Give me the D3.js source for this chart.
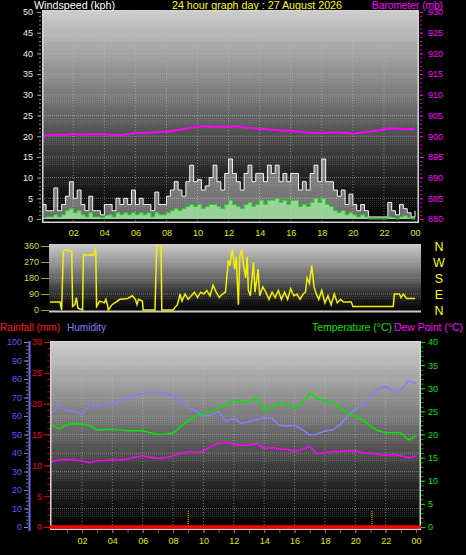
<!DOCTYPE html>
<html><head><meta charset="utf-8">
<script src="https://cdn.jsdelivr.net/npm/d3@7/dist/d3.min.js"></script>
<style>
body{margin:0;background:#000;}
svg{display:block;}
text{font-family:"Liberation Sans",Arial,sans-serif;}
</style>
</head><body>
<svg id="c" width="466" height="555"></svg>
<script>
// ---------------- DATA ----------------
const titleText = "24 hour graph day : 27 August 2026";
const hourTicks = [2,4,6,8,10,12,14,16,18,20,22,24];
// wind: every 15 minutes from 00:00 to 24:00
const windGust = [3.5,2,2,7.5, 2,3.5,5.5,9, 5,7,3.5,2, 5.5,2,2,1, 3.5,3.5,2,5, 3.5,5,3.5,7, 3.5,5,3.5,3.5, 2,6.5,3.5,3.5,
  5.5,7,9,7, 5.5,9,13,9, 9.5,7,8,10, 13,9,7,11, 14.5,11,9,7, 11,13,9,11, 11,9,13,11, 13,9,11,9, 11,11,7,9, 7,11,13,9,
  14.5,9,9,7, 5.5,7,3.5,6, 3.5,2,3.5,2, 0.5,0.5,0.5,0.5, 0.5,4,2,1, 3.5,2.5,1.5,0.5, 2];
const windAvg = [0.3,0.5,0.5,1, 0.5,1,2,2.5, 1.5,2,1,0.5, 1.5,0.5,0.5,0.3, 0.8,1,0.5,1.5, 1,1.5,1,1.5, 1,1.5,1,1.5, 0.5,1.5,1,1,
  1.5,2,2.5,2, 2.5,3,3.5,3, 3.5,2.5,3,3.5, 3.5,3,2.5,3.5, 4.5,3.5,3,2.5, 3.5,4,3,3.5, 4.5,3.5,4.5,4.5, 5,4,4.5,3.5, 4.5,4.5,3,3.5, 3,4,5,4,
  5,3.5,3,2, 1.5,2,1,1.5, 1,0.5,1,0.5, 0,0,0,0, 0,0.5,0.3,0, 0.5,0.8,0.3,0, 0.3];
// half-hourly from 00:00 to 24:00
const barometer = [900.2,900.3,900.4,900.3,900.5,900.4,900.4,900.5,900.5,900.3,900.3,900.5,900.7,900.8,900.9,901.0,
  901.1,901.4,901.7,902.0,902.2,902.4,902.3,902.3,902.2,902.4,902.1,902.0,901.8,901.7,901.5,901.3,901.4,901.1,
  900.9,900.8,900.7,900.9,900.9,900.8,900.6,900.9,901.1,901.3,901.7,901.9,901.8,901.7,901.8];
const humidity = [61.5,66.5,63,62.5,61,66,65,66.4,66.5,68,69.6,71,72,72.9,72.7,72.3,70.9,67.8,64.7,62.7,59.7,60.6,
  62.4,57,58.8,56,57,58,59.3,58.8,55,54.6,55,52.8,49.7,50.3,51.9,52.4,55.2,60,63.7,65.5,71,74.5,76,73,74,79,77.5];
const temperature = [22.1,21.2,22.1,22.4,22.2,22.0,21.0,21.1,21.1,21.0,20.8,20.8,20.8,20.4,20.0,20.1,20.3,21.7,23.0,
  24.0,24.5,25.0,25.7,26.5,27.5,27.1,27.1,27.8,25.3,25.9,26.8,26.5,25.7,26.8,28.9,27.8,27.3,26.9,25.7,24.6,23.9,
  23.1,21.8,20.8,20.4,20.4,20.4,18.8,19.7];
const dewPoint = [14.1,14.5,14.6,14.5,14.3,13.9,14.3,14.4,14.5,14.5,14.7,15.1,15.4,15.1,14.8,15.0,15.4,15.9,16.3,
  16.1,16.4,17.4,18.1,18.3,17.9,17.7,17.7,18.1,17.0,17.2,16.8,16.8,16.3,16.8,17.4,15.9,16.1,16.3,16.3,16.5,16.5,
  16.1,15.9,15.7,15.5,15.7,15.4,15.0,15.3];
const rainfall = [0,0,0,0,0,0,0,0,0,0,0,0,0,0,0,0,0,0,0,0,0,0,0,0,0,0,0,0,0,0,0,0,0,0,0,0,0,0,0,0,0,0,0,0,0,0,0,0,0];
// wind direction (irregular samples)
const dirHours = [0.5,1.15,1.25,1.36,1.45,1.9,1.96,2.1,2.2,2.3,2.6,2.65,3.3,3.4,3.45,3.5,3.7,4.0,4.1,4.2,4.26,4.5,5.0,5.5,5.8,6.0,6.1,6.2,6.45,6.5,
  7.26,7.37,7.65,7.7,8.44,8.55,8.7,8.8,8.87,9.0,9.2,9.4,9.6,9.8,10.0,10.2,10.4,10.6,10.8,11.0,11.2,11.4,11.6,11.8,11.98,12.08,12.24,12.4,12.5,12.55,
  12.63,12.72,12.85,12.95,13.1,13.2,13.27,13.4,13.6,13.7,13.9,14.0,14.2,14.4,14.6,14.8,15.0,15.2,15.4,15.6,15.8,16.0,16.2,16.4,16.6,16.8,16.95,17.05,
  17.2,17.35,17.5,17.65,17.8,18.0,18.2,18.4,18.6,18.8,19.0,19.2,19.4,19.9,20.0,22.6,22.67,23.0,23.1,23.25,23.46,24.0];
const dirValues = [45,45,0,330,340,330,20,30,70,10,0,310,310,340,330,20,50,40,60,30,0,30,60,65,80,60,30,60,50,0,
  0,360,360,0,0,15,30,60,90,50,90,60,80,100,70,100,90,110,80,140,100,70,90,100,280,250,345,230,300,180,
  30,300,340,260,180,300,110,80,270,100,230,80,130,100,60,100,70,110,60,100,60,120,80,90,60,90,100,180,
  150,250,130,90,60,110,40,80,30,90,40,60,45,45,20,20,90,90,70,90,65,65];
const compass = ["N","W","S","E","N"];
const compassDeg = [360,270,180,90,0];
const markerHours = [9.0, 21.1];

// ---------------- HELPERS ----------------
const svg = d3.select("#c");
const defs = svg.append("defs");
function bgGrad(id){
  const g = defs.append("linearGradient").attr("id",id).attr("x1",0).attr("y1",0).attr("x2",0).attr("y2",1);
  [["0%","#cdcdcd"],["40%","#7a7a7a"],["80%","#1e1e1e"],["100%","#000"]].forEach(s=>g.append("stop").attr("offset",s[0]).attr("stop-color",s[1]));
}
bgGrad("bg");
const pat = defs.append("pattern").attr("id","stip").attr("width",2).attr("height",2).attr("patternUnits","userSpaceOnUse");
pat.append("rect").attr("width",1).attr("height",1).attr("fill","#fff").attr("opacity",0.13);

const pad2 = h => String(h%24).padStart(2,"0");
const t15 = windGust.map((_,i)=>i/4);
const t30 = barometer.map((_,i)=>i/2);

function panel(x0,y0,x1,y1,clipId){
  svg.append("rect").attr("x",x0).attr("y",y0).attr("width",x1-x0).attr("height",y1-y0).attr("fill","url(#bg)");
  defs.append("clipPath").attr("id",clipId).append("rect").attr("x",x0).attr("y",y0).attr("width",x1-x0).attr("height",y1-y0);
}
function frame(x0,y0,x1,y1){
  svg.append("rect").attr("x",x0+0.75).attr("y",y0+0.75).attr("width",x1-x0-1.5).attr("height",y1-y0-1.5)
    .attr("fill","none").attr("stroke","#d4d4d4").attr("stroke-width",1.5);
}
function styleAxis(g,color,size){
  g.select(".domain").remove();
  g.selectAll(".tick line").attr("stroke",color);
  g.selectAll(".tick text").attr("fill",color).attr("font-size",size);
}
function label(x,y,txt,color,len,anchor){
  return svg.append("text").attr("x",x).attr("y",y).attr("fill",color).attr("font-size",11)
    .attr("text-anchor",anchor||"start").attr("textLength",len).attr("lengthAdjust","spacingAndGlyphs").text(txt);
}

// ---------------- TOP PANEL (wind + barometer) ----------------
const xT = d3.scaleLinear().domain([0,24]).range([42.2,415]);
const yW = d3.scaleLinear().domain([0,50]).range([219,12]);
const yB = d3.scaleLinear().domain([880,930]).range([219,12]);
panel(42,10,419,223,"clipT");
const gT = svg.append("g").attr("clip-path","url(#clipT)");
yW.ticks(10).forEach(v=>{ if(v>0) gT.append("rect").attr("x",42).attr("y",yW(v)+1).attr("width",377).attr("height",8).attr("fill","url(#stip)"); });
yW.ticks(10).filter(v=>v>0&&v<50).forEach(v=>gT.append("line").attr("x1",42).attr("x2",419).attr("y1",yW(v)).attr("y2",yW(v))
  .attr("stroke","#b8b8b8").attr("stroke-opacity",0.55).attr("stroke-dasharray","1,1"));
hourTicks.filter(h=>h<24).forEach(h=>gT.append("line").attr("x1",xT(h)).attr("x2",xT(h)).attr("y1",10).attr("y2",223)
  .attr("stroke","#c0c0c0").attr("stroke-opacity",0.55).attr("stroke-dasharray","1,2"));
gT.append("path").datum(windGust).attr("fill","#ffffff").attr("fill-opacity",0.42)
  .attr("d",d3.area().curve(d3.curveStepAfter).x((d,i)=>xT(t15[i])).y0(yW(0)).y1(d=>yW(d)));
gT.append("path").datum(windGust).attr("fill","none").attr("stroke","#f4f4f4").attr("stroke-width",1)
  .attr("d",d3.line().curve(d3.curveStepAfter).x((d,i)=>xT(t15[i])).y(d=>yW(d)));
gT.append("path").datum(windAvg).attr("fill","#a8f0a8").attr("fill-opacity",0.75)
  .attr("d",d3.area().curve(d3.curveStepAfter).x((d,i)=>xT(t15[i])).y0(yW(0)).y1(d=>yW(d)));
gT.append("path").datum(windAvg).attr("fill","none").attr("stroke","#20e020").attr("stroke-width",1)
  .attr("d",d3.line().curve(d3.curveStepAfter).x((d,i)=>xT(t15[i])).y(d=>yW(d)));
gT.append("path").datum(barometer).attr("fill","none").attr("stroke","#ff00ff").attr("stroke-width",2)
  .attr("d",d3.line().x((d,i)=>xT(t30[i])).y(d=>yB(d)));
frame(42,10,419,223);
svg.append("g").attr("transform","translate(41,0)").call(d3.axisLeft(yW).tickValues(d3.range(0,51,1)).tickSize(2).tickFormat(""))
  .call(g=>styleAxis(g,"#8a8a8a",9));
svg.append("g").attr("transform","translate(41,0)").call(d3.axisLeft(yW).tickValues(d3.range(0,51,5)).tickSize(4).tickPadding(4))
  .call(g=>styleAxis(g,"#9a9a9a",9)).call(g=>g.selectAll("text").attr("fill","#f2f2d8"));
svg.append("g").attr("transform","translate(420,0)").call(d3.axisRight(yB).tickValues(d3.range(880,931,1)).tickSize(2).tickFormat(""))
  .call(g=>styleAxis(g,"#d000d0",9));
svg.append("g").attr("transform","translate(420,0)").call(d3.axisRight(yB).tickValues(d3.range(880,931,5)).tickSize(3).tickPadding(5))
  .call(g=>styleAxis(g,"#ff00ff",9));
svg.append("g").attr("transform","translate(0,223)").call(d3.axisBottom(xT).tickValues(hourTicks).tickSize(0).tickPadding(7).tickFormat(pad2))
  .call(g=>styleAxis(g,"#e8e800",9));
label(34,9,"Windspeed (kph)","#ffffff",81);
label(257,9,titleText,"#ffff00",170,"middle");
label(443,9,"Barometer (mb)","#ff00ff",71,"end");

// ---------------- MIDDLE PANEL (wind direction) ----------------
const xM = d3.scaleLinear().domain([0,24]).range([42.2,415]);
const yD = d3.scaleLinear().domain([0,360]).range([310,246]);
panel(49,244,421,313,"clipM");
const gM = svg.append("g").attr("clip-path","url(#clipM)");
[90,180,270].forEach(v=>{
  gM.append("rect").attr("x",49).attr("y",yD(v)+1).attr("width",372).attr("height",5).attr("fill","url(#stip)");
  gM.append("line").attr("x1",49).attr("x2",421).attr("y1",yD(v)).attr("y2",yD(v)).attr("stroke","#b8b8b8").attr("stroke-opacity",0.5).attr("stroke-dasharray","1,1");
});
gM.append("line").attr("x1",49).attr("x2",421).attr("y1",311.5).attr("y2",311.5).attr("stroke","#c8c8c8").attr("stroke-width",2);
gM.append("path").datum(dirValues).attr("fill","none").attr("stroke","#f2f200").attr("stroke-width",1.5)
  .attr("d",d3.line().x((d,i)=>xM(dirHours[i])).y(d=>yD(d)));
svg.append("g").attr("transform","translate(49,0)").call(d3.axisLeft(yD).tickValues([0,90,180,270,360]).tickSize(8).tickPadding(2))
  .call(g=>styleAxis(g,"#d8d840",9)).call(g=>g.selectAll("line").attr("stroke","#a0a030"));
svg.append("g").selectAll("text").data(compass).join("text").attr("x",439).attr("y",(d,i)=>yD(compassDeg[i])+4.5)
  .attr("text-anchor","middle").attr("fill","#ffff00").attr("font-size",12.5).text(d=>d);

// ---------------- BOTTOM PANEL ----------------
label(0,331,"Rainfall (mm)","#ff1010",60);
label(67,331,"Humidity","#8080ff",39);
label(312,331,"Temperature (°C)","#00e000",80);
label(394,331,"Dew Point (°C)","#ff00ff",69);

const xB = d3.scaleLinear().domain([0,24]).range([51.6,416]);
const yT = d3.scaleLinear().domain([0,40]).range([527,342]);
const yH = d3.scaleLinear().domain([0,100]).range([527,342]);
const yR = d3.scaleLinear().domain([0,30]).range([527,342]);
panel(50,341,421,530,"clipB");
const gB = svg.append("g").attr("clip-path","url(#clipB)");
yH.ticks(10).filter(v=>v>0&&v<100).forEach(v=>{
  gB.append("rect").attr("x",50).attr("y",yH(v)+1).attr("width",371).attr("height",8).attr("fill","url(#stip)");
  gB.append("line").attr("x1",50).attr("x2",421).attr("y1",yH(v)).attr("y2",yH(v)).attr("stroke","#b8b8b8").attr("stroke-opacity",0.5).attr("stroke-dasharray","1,1");
});
hourTicks.filter(h=>h<24).forEach(h=>gB.append("line").attr("x1",xB(h)).attr("x2",xB(h)).attr("y1",341).attr("y2",530)
  .attr("stroke","#c0c0c0").attr("stroke-opacity",0.55).attr("stroke-dasharray","1,2"));
markerHours.forEach(h=>gB.append("line").attr("x1",xB(h)).attr("x2",xB(h)).attr("y1",511).attr("y2",527)
  .attr("stroke","#e0d000").attr("stroke-dasharray","1,1"));
gB.append("path").datum(humidity).attr("fill","none").attr("stroke","#8080ff").attr("stroke-width",1.5)
  .attr("d",d3.line().x((d,i)=>xB(t30[i])).y(d=>yH(d)));
gB.append("path").datum(temperature).attr("fill","none").attr("stroke","#00e800").attr("stroke-width",1.5)
  .attr("d",d3.line().x((d,i)=>xB(t30[i])).y(d=>yT(d)));
gB.append("path").datum(dewPoint).attr("fill","none").attr("stroke","#ff00ff").attr("stroke-width",1.5)
  .attr("d",d3.line().x((d,i)=>xB(t30[i])).y(d=>yT(d)));
frame(50,341,421,530);
svg.append("path").datum(rainfall).attr("fill","none").attr("stroke","#ff0000").attr("stroke-width",3)
  .attr("d",d3.line().x((d,i)=>xB(t30[i])).y(d=>yR(d)));
svg.append("line").attr("x1",50).attr("x2",421).attr("y1",yR(0)).attr("y2",yR(0)).attr("stroke","#ff0000").attr("stroke-width",3);

svg.append("g").attr("transform","translate(28,0)").call(d3.axisLeft(yH).tickValues(d3.range(0,101,2)).tickSize(2).tickFormat(""))
  .call(g=>styleAxis(g,"#808080",9));
svg.append("g").attr("transform","translate(28,0)").call(d3.axisLeft(yH).tickValues(d3.range(0,101,10)).tickSize(4).tickPadding(2))
  .call(g=>styleAxis(g,"#5a5aff",9)).call(g=>g.selectAll("line").attr("stroke","#909090"));
svg.append("rect").attr("x",28.5).attr("y",341).attr("width",2).attr("height",190).attr("fill","#6a6aff");
svg.append("g").attr("transform","translate(50,0)").call(d3.axisLeft(yR).tickValues(d3.range(0,31,1)).tickSize(2.5).tickFormat(""))
  .call(g=>styleAxis(g,"#d00000",9));
svg.append("g").attr("transform","translate(50,0)").call(d3.axisLeft(yR).tickValues(d3.range(0,31,5)).tickSize(6).tickPadding(2))
  .call(g=>styleAxis(g,"#f00000",9));
svg.append("g").attr("transform","translate(421,0)").call(d3.axisRight(yT).tickValues(d3.range(0,41,1)).tickSize(2.5).tickFormat(""))
  .call(g=>styleAxis(g,"#00b000",9));
svg.append("g").attr("transform","translate(421,0)").call(d3.axisRight(yT).tickValues(d3.range(0,41,5)).tickSize(4).tickPadding(3))
  .call(g=>styleAxis(g,"#00e000",9));
svg.append("g").attr("transform","translate(0,530)").call(d3.axisBottom(xB).tickValues(d3.range(1,25,1)).tickSize(3).tickFormat(""))
  .call(g=>styleAxis(g,"#707070",9));
svg.append("g").attr("transform","translate(0,530)").call(d3.axisBottom(xB).tickValues(hourTicks).tickSize(3).tickPadding(4.5).tickFormat(pad2))
  .call(g=>styleAxis(g,"#e8e800",9)).call(g=>g.selectAll("line").attr("stroke","#707070"));
</script>
</body></html>
